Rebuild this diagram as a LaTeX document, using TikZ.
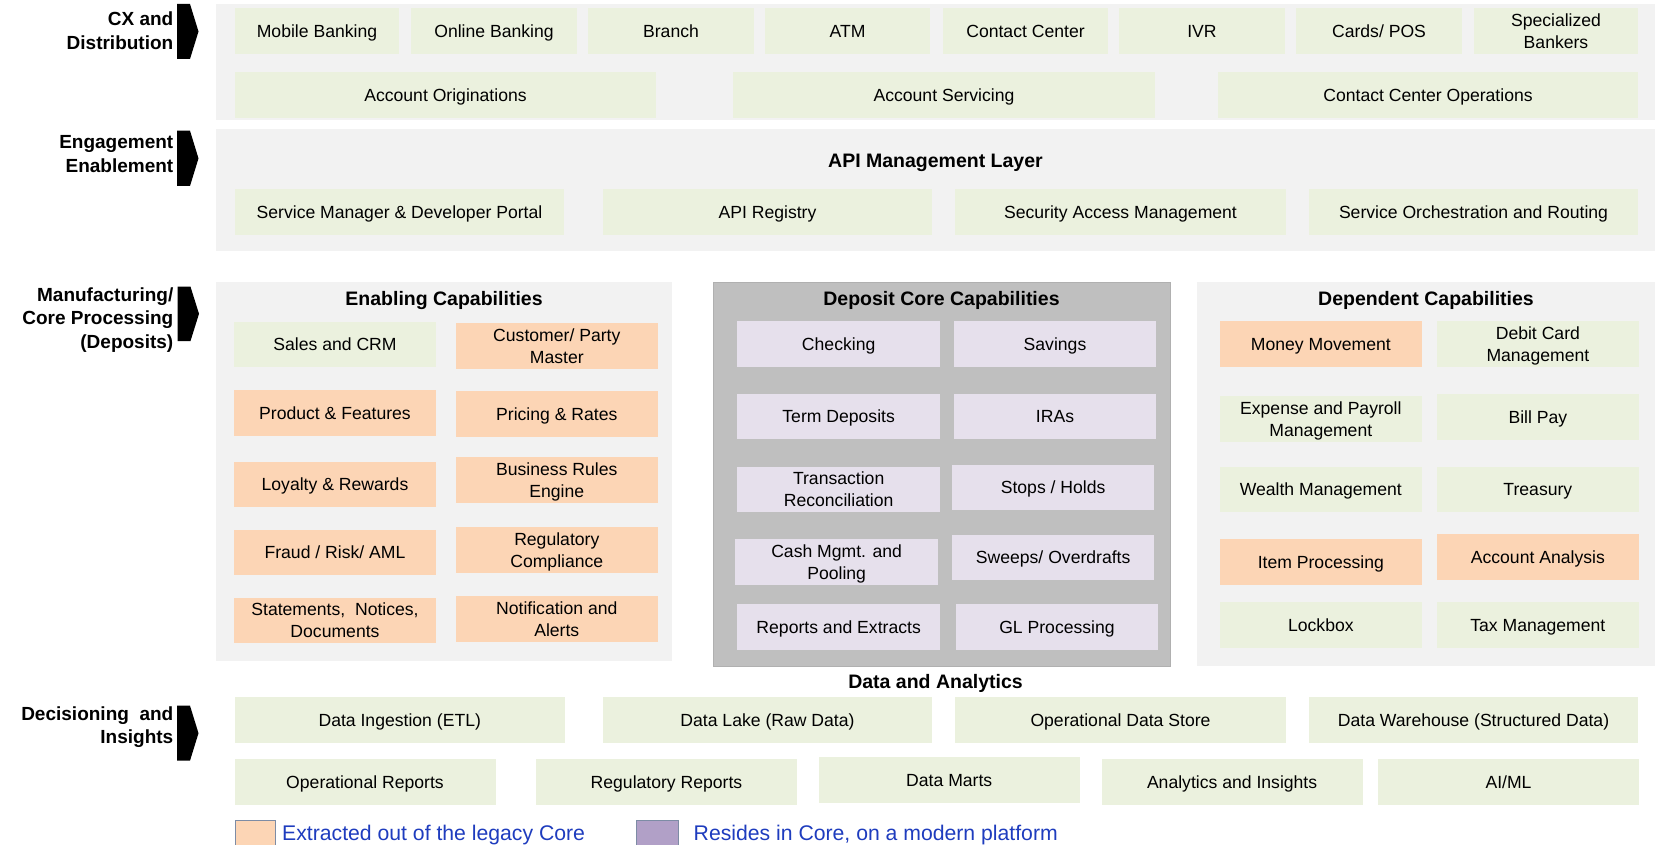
\documentclass[tikz,border=0pt]{standalone}
\usepackage{fontspec}
\setmainfont{Liberation Sans}
\definecolor{bandbg}{HTML}{F2F2F2}
\definecolor{gfill}{HTML}{EBF1DE}
\definecolor{ofill}{HTML}{FCD5B5}
\definecolor{lfill}{HTML}{E6E0EC}
\definecolor{corefill}{HTML}{BFBFBF}
\definecolor{coreedge}{HTML}{B0B0B0}
\definecolor{purpsw}{HTML}{B1A0C7}
\definecolor{legblue}{RGB}{30,60,190}
\definecolor{swborder}{RGB}{125,140,165}
\tikzset{
 boxbase/.style={inner sep=0pt, align=center, font=\fontsize{17.6}{22}\selectfont, text=black},
 gbox/.style={boxbase, fill=gfill},
 obox/.style={boxbase, fill=ofill},
 lbox/.style={boxbase, fill=lfill},
 band/.style={inner sep=0pt, fill=bandbg},
 corepanel/.style={inner sep=0pt, fill=corefill, draw=coreedge, line width=1pt},
 heading/.style={font=\bfseries\fontsize{19.5}{22}\selectfont, inner sep=0pt, anchor=base},
 sidelabel/.style={font=\bfseries\fontsize{19}{23.5}\selectfont, align=right, inner sep=0pt, anchor=east},
 chevron/.style={fill=black},
 legendtext/.style={font=\fontsize{21.2}{24}\selectfont, text=legblue, anchor=base west, inner sep=0pt},
 swatch/.style={draw=swborder, line width=1pt}
}
\newcommand\bxstrut{\rule[-4pt]{0pt}{20.6pt}}
\newcommand\bx[7]{%
 \pgfmathsetmacro\bxcx{(#3+#5)/2}\pgfmathsetmacro\bxcy{(#4+#6)/2}%
 \pgfmathsetmacro\bxw{#5-#3}\pgfmathsetmacro\bxh{#6-#4}%
 \node[#1, minimum width=\bxw pt, minimum height=\bxh pt] (#2) at (\bxcx,\bxcy) {\bxstrut #7\bxstrut};}
\begin{document}
\begin{tikzpicture}[x=1pt,y=-1pt]
\useasboundingbox (0,0) rectangle (1655,845);
\fill[white] (0,0) rectangle (1655,845);

% ---------- Band 1: CX and Distribution
\bx{band}{band1}{216}{4}{1655}{120}{}
\bx{gbox}{mob}{235}{8.5}{399}{54}{Mobile Banking}
\bx{gbox}{onl}{411}{8.5}{577}{54}{Online Banking}
\bx{gbox}{bra}{588}{8.5}{754}{54}{Branch}
\bx{gbox}{atm}{765}{8.5}{930}{54}{ATM}
\bx{gbox}{ccr}{943}{8.5}{1108}{54}{Contact Center}
\bx{gbox}{ivr}{1119}{8.5}{1285}{54}{IVR}
\bx{gbox}{pos}{1296}{8.5}{1462}{54}{Cards/ POS}
\bx{gbox}{spb}{1474}{8.5}{1638}{54}{Specialized\\Bankers}
\bx{gbox}{aor}{235}{72.5}{656}{118}{Account Originations}
\bx{gbox}{asv}{733}{72.5}{1155}{118}{Account Servicing}
\bx{gbox}{cco}{1218}{72.5}{1638}{118}{Contact Center Operations}

% ---------- Band 2: Engagement Enablement
\bx{band}{band2}{216}{129.5}{1655}{251.5}{}
\node[heading] (apih) at (935.5,167.7) {API Management Layer};
\bx{gbox}{smd}{235}{189.5}{564}{235}{Service Manager \& Developer Portal}
\bx{gbox}{apr}{603}{189.5}{932}{235}{API Registry}
\bx{gbox}{sam}{955}{189.5}{1286}{235}{Security Access Management}
\bx{gbox}{sor}{1309}{189.5}{1638}{235}{Service Orchestration and Routing}

% ---------- Band 3: Enabling capabilities
\bx{band}{enab}{216}{282}{672}{661}{}
\node[heading] (enabh) at (444,305.5) {Enabling Capabilities};
\bx{gbox}{scrm}{234}{321.7}{436}{366.7}{Sales and CRM}
\bx{obox}{cpm}{456}{323.3}{657.6}{368.7}{Customer/ Party\\Master}
\bx{obox}{pnf}{234}{390}{436}{435.7}{Product \& Features}
\bx{obox}{pnr}{456}{391}{657.6}{436.7}{Pricing \& Rates}
\bx{obox}{lnr}{234}{462}{436}{507.3}{Loyalty \& Rewards}
\bx{obox}{bre}{456}{457}{657.6}{502.7}{Business Rules\\Engine}
\bx{obox}{fra}{234}{529.7}{436}{575.3}{Fraud / Risk/ AML}
\bx{obox}{rco}{456}{526.7}{657.6}{572.7}{Regulatory\\Compliance}
\bx{obox}{snd}{234}{597.7}{436}{643}{Statements,\ \ Notices,\\Documents}
\bx{obox}{nal}{456}{596.3}{657.6}{642}{Notification and\\Alerts}

% ---------- Deposit core
\bx{corepanel}{core}{713.3}{282.3}{1170}{666.7}{}
\node[heading] (coreh) at (941.5,305.5) {Deposit Core Capabilities};
\bx{lbox}{chk}{737.3}{321}{940}{366.7}{Checking}
\bx{lbox}{sav}{954}{321}{1156}{366.7}{Savings}
\bx{lbox}{trm}{737.3}{394}{940}{439.3}{Term Deposits}
\bx{lbox}{ira}{954}{394}{1156}{439.3}{IRAs}
\bx{lbox}{trc}{737.3}{466.7}{940}{512.3}{Transaction\\Reconciliation}
\bx{lbox}{sth}{952.3}{464.7}{1154}{510}{Stops / Holds}
\bx{lbox}{cmp}{735.3}{539.3}{938}{585}{Cash Mgmt. and\\Pooling}
\bx{lbox}{swo}{952.3}{534.7}{1154}{580}{Sweeps/ Overdrafts}
\bx{lbox}{rne}{737.3}{604.3}{940}{650}{Reports and Extracts}
\bx{lbox}{glp}{956}{604.3}{1158}{650}{GL Processing}

% ---------- Dependent capabilities
\bx{band}{dep}{1197.3}{282.3}{1655}{666}{}
\node[heading] (deph) at (1426,305.5) {Dependent Capabilities};
\bx{obox}{mmv}{1220}{321}{1421.7}{366.7}{Money Movement}
\bx{gbox}{dcm}{1437}{321}{1638.7}{366.7}{Debit Card\\Management}
\bx{gbox}{epm}{1220}{396}{1421.7}{441.7}{Expense and Payroll\\Management}
\bx{gbox}{bpy}{1437}{394}{1638.7}{439.7}{Bill Pay}
\bx{gbox}{wlm}{1220}{466.7}{1421.7}{512}{Wealth Management}
\bx{gbox}{trs}{1437}{466.7}{1638.7}{512}{Treasury}
\bx{obox}{itp}{1220}{539.3}{1421.7}{584.7}{Item Processing}
\bx{obox}{aan}{1437}{534.3}{1638.7}{580}{Account Analysis}
\bx{gbox}{lbx}{1220}{602.3}{1421.7}{647.7}{Lockbox}
\bx{gbox}{txm}{1437}{602.3}{1638.7}{647.7}{Tax Management}

% ---------- Data and Analytics
\node[heading] (dah) at (935.5,688) {Data and Analytics};
\bx{gbox}{din}{234.5}{696.7}{565}{742.7}{Data Ingestion (ETL)}
\bx{gbox}{dlk}{603}{696.7}{932}{742.7}{Data Lake (Raw Data)}
\bx{gbox}{ods}{955}{696.7}{1286}{742.7}{Operational Data Store}
\bx{gbox}{dwh}{1309}{696.7}{1638}{742.7}{Data Warehouse (Structured Data)}
\bx{gbox}{opr}{234.5}{759}{495.5}{804.7}{Operational Reports}
\bx{gbox}{rgr}{536}{759}{797}{804.7}{Regulatory Reports}
\bx{gbox}{dmt}{819}{757.3}{1079.5}{802.7}{Data Marts}
\bx{gbox}{ani}{1101.6}{759}{1362.6}{804.7}{Analytics and Insights}
\bx{gbox}{aiml}{1378}{759}{1639}{804.7}{AI/ML}

% ---------- Side labels and chevrons
\node[sidelabel] (l1) at (173.5,30.5) {CX and\\Distribution};
\node[sidelabel] (l2) at (173.5,154) {Engagement\\Enablement};
\node[sidelabel] (l3) at (173.5,320) {Manufacturing/\\Core Processing\\(Deposits)};
\node[sidelabel] (l4) at (173.5,727) {Decisioning\ \ and\\Insights};
\fill[chevron] (177,4) -- (190,4) -- (198.5,31.5) -- (190,59) -- (177,59) -- cycle;
\fill[chevron] (177,130.7) -- (190,130.7) -- (198.5,158.4) -- (190,186) -- (177,186) -- cycle;
\fill[chevron] (177.5,286.7) -- (190.5,286.7) -- (199,313.8) -- (190.5,341) -- (177.5,341) -- cycle;
\fill[chevron] (177,705.7) -- (190,705.7) -- (198.5,733.2) -- (190,760.7) -- (177,760.7) -- cycle;

% ---------- Legend
\bx{swatch, fill=ofill}{sw1}{235}{820}{275}{849}{}
\node[legendtext] (lt1) at (282,840) {Extracted out of the legacy Core};
\bx{swatch, fill=purpsw}{sw2}{636}{820}{678}{849}{}
\node[legendtext] (lt2) at (693.5,840) {Resides in Core, on a modern platform};
\end{tikzpicture}
\end{document}
